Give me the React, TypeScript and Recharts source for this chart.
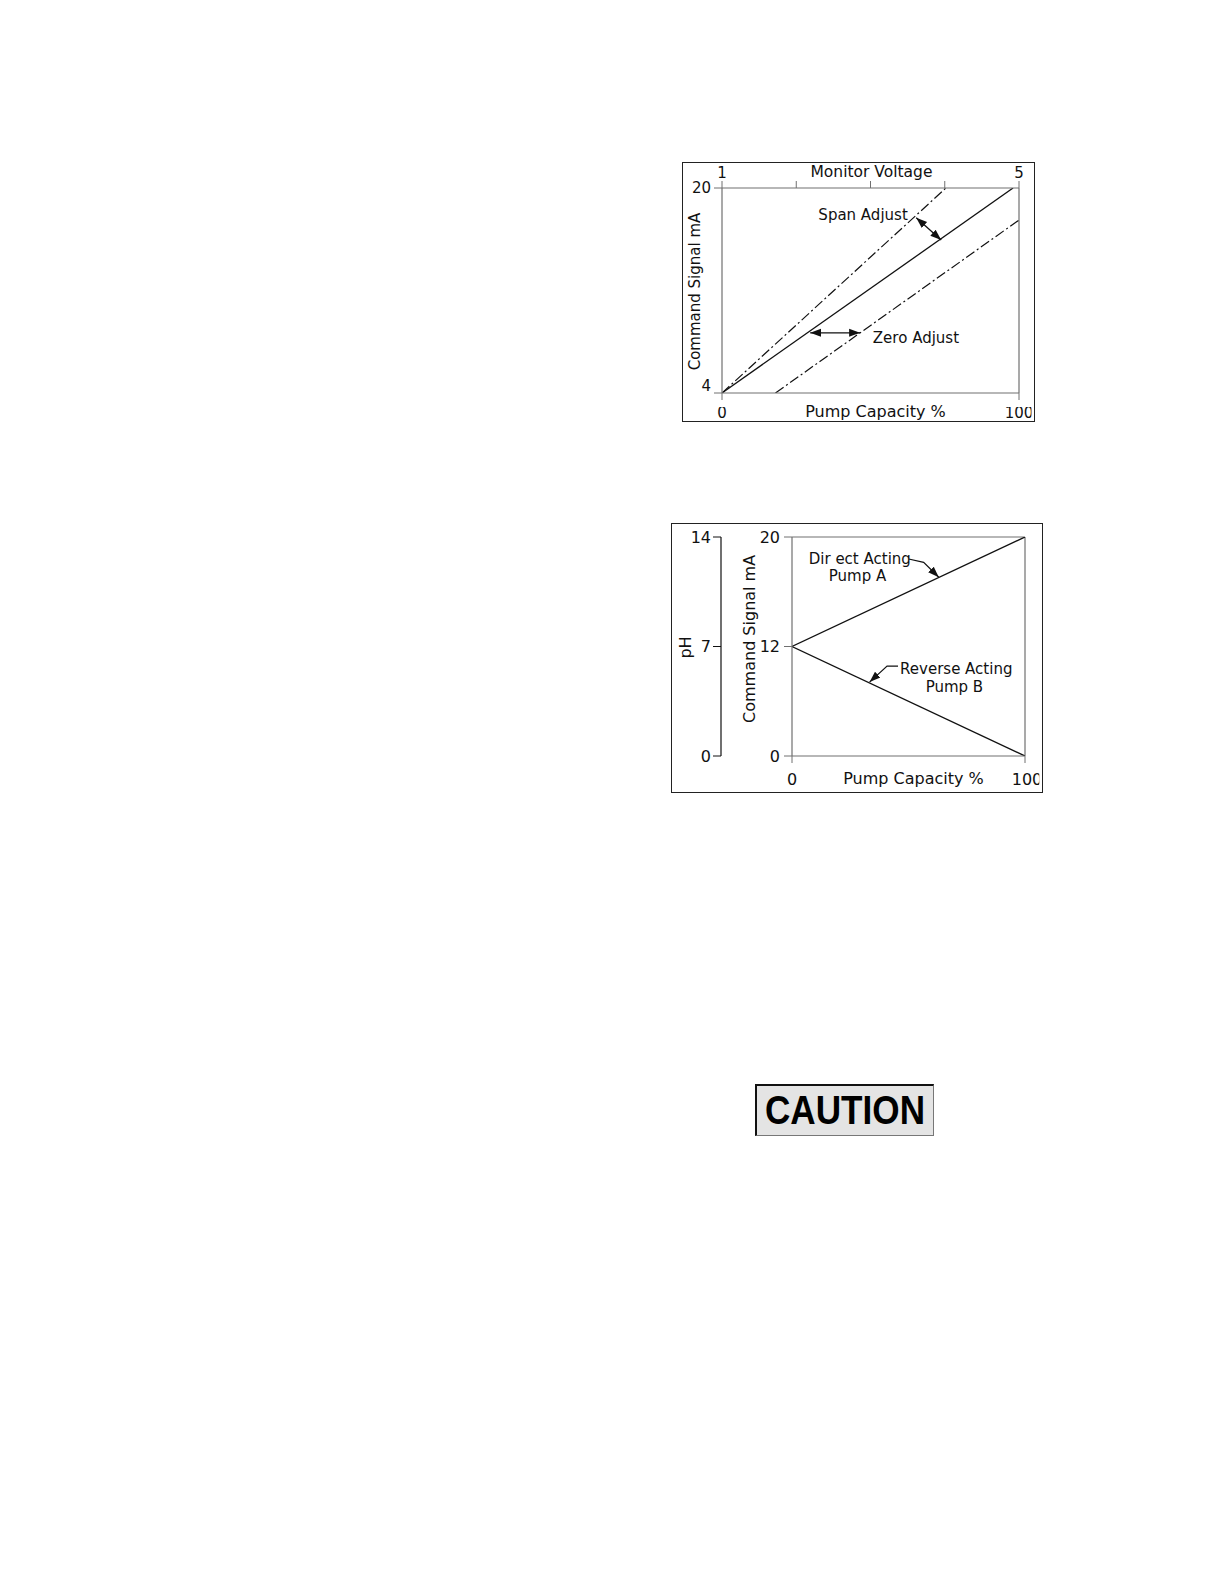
import React from 'react'
import { LineChart, Line, XAxis, YAxis, ReferenceLine, ReferenceDot, Label } from 'recharts'

// chart 1: command signal vs pump capacity, with span / zero adjustments
const capacityTicks = [0, 100]
const voltageTicks = [1, 2, 3, 4, 5]
const voltageTickLabels = ['1', '', '', '', '5']
const signalTicks = [4, 20]

const nominalX = [0, 98]
const nominalY = [4, 20]
const spanX = [0, 75.4]
const spanY = [4, 20]
const zeroX = [18, 100]
const zeroY = [4, 17.5]

const spanArrowX = [65.4, 73.8]
const spanArrowY = [17.68, 15.94]
const zeroArrowX = [29.7, 46.5]
const zeroArrowY = [8.7, 8.7]

// chart 2: direct / reverse acting pumps vs pH
const directX = [0, 100]
const directY = [12, 20]
const reverseX = [0, 100]
const reverseY = [12, 4]
const signalTicks2 = [4, 12, 20]
const signalTickLabels2 = ['0', '12', '20']
const phTicks = [0, 7, 14]

const directLeaderX = [50.1, 56.5, 63.0]
const directLeaderY = [18.39, 18.15, 17.06]
const reverseLeaderX = [45.5, 40.8, 33.3]
const reverseLeaderY = [10.57, 10.57, 9.4]

const toPoints = (xs: number[], ys: number[]) => xs.map((x, i) => ({ x, y: ys[i] }))

const FONT = 'DejaVu Sans, sans-serif'
const INK = '#111'
const GRID = '#707070'

const titleAt = (text: string, size: number, dx: number, dy: number, vertical = false) =>
  (props: any) => {
    const vb = props.viewBox
    const cx = vertical ? vb.x + dx : vb.x + vb.width / 2 + dx
    const cy = vertical ? vb.y + vb.height / 2 + dy : vb.y + dy
    return (
      <text
        x={cx}
        y={cy}
        textAnchor="middle"
        dominantBaseline="central"
        transform={vertical ? `rotate(-90 ${cx} ${cy})` : undefined}
        fontSize={size}
        fontFamily={FONT}
        fill={INK}
      >
        {text}
      </text>
    )
  }

// y tick whose bottom label sits a little above its tick, as in the drawing
const SignalTick = (props: any) => {
  const { x, y, payload } = props
  const lift = payload.value === signalTicks[0] ? -7 : 0
  return (
    <text x={x} y={y + lift} textAnchor="end" dominantBaseline="central" fontSize={15} fontFamily={FONT} fill={INK}>
      {payload.value}
    </text>
  )
}

// bottom tick whose last label is cropped on the right, like the scanned "100"
const capacityTick = (size: number, clip: number, shift: number) => (props: any) => {
  const { x, y, payload } = props
  const isLast = payload.value === capacityTicks[capacityTicks.length - 1]
  return (
    <svg x={x - 40} y={y} width={40 + clip} height={size * 1.4} overflow="hidden">
      <text x={40 + (isLast ? shift : 0)} y={0} dy="0.74em" textAnchor="middle" fontSize={size} fontFamily={FONT} fill={INK}>
        {payload.value}
      </text>
    </svg>
  )
}

const note = (value: string, size = 15) => ({ value, position: 'center' as const, fill: INK, fontSize: size, fontFamily: FONT })

const hidden = { stroke: 'none', dot: false, activeDot: false, isAnimationActive: false, legendType: 'none' as const }

function AdjustChart() {
  const tick = { fill: INK, fontSize: 15, fontFamily: FONT }
  return (
    <LineChart width={351} height={258} margin={{ top: 0, right: 15, bottom: 0, left: 0 }}>
      <XAxis
        dataKey="x"
        type="number"
        domain={[0, 100]}
        allowDataOverflow
        ticks={capacityTicks}
        interval={0}
        tick={capacityTick(15, 12.5, 0)}
        tickSize={7}
        tickMargin={7}
        height={28}
        axisLine={{ stroke: GRID, strokeWidth: 1.2 }}
        tickLine={{ stroke: GRID }}
      >
        <Label content={titleAt('Pump Capacity %', 16, 5, 18)} />
      </XAxis>
      <XAxis
        xAxisId="volt"
        dataKey="x"
        orientation="top"
        type="number"
        domain={[1, 5]}
        allowDataOverflow
        ticks={voltageTicks}
        interval={0}
        tickFormatter={(_v: number, i: number) => voltageTickLabels[i]}
        tick={tick}
        tickSize={7}
        tickMargin={3}
        height={25}
        axisLine={{ stroke: GRID, strokeWidth: 1.2 }}
        tickLine={{ stroke: GRID }}
      >
        <Label content={titleAt('Monitor Voltage', 15.5, 1, 9.3)} />
      </XAxis>
      <YAxis
        type="number"
        domain={[4, 20]}
        allowDataOverflow
        ticks={signalTicks}
        interval={0}
        tick={<SignalTick />}
        tickSize={8}
        tickMargin={3}
        width={39}
        axisLine={{ stroke: GRID, strokeWidth: 1.2 }}
        tickLine={{ stroke: GRID }}
      >
        <Label content={titleAt('Command Signal mA', 15, 12, 1, true)} />
      </YAxis>
      <ReferenceLine x={100} stroke={GRID} strokeWidth={1.2} />
      <Line xAxisId="volt" data={voltageTicks.map((v) => ({ x: v, y: signalTicks[0] }))} dataKey="y" {...hidden} />
      <Line data={toPoints(nominalX, nominalY)} dataKey="y" stroke={INK} strokeWidth={1.3} dot={false} activeDot={false} isAnimationActive={false} />
      <Line data={toPoints(spanX, spanY)} dataKey="y" stroke={INK} strokeWidth={1.2} strokeDasharray="10 3 2 3" dot={false} activeDot={false} isAnimationActive={false} />
      <Line data={toPoints(zeroX, zeroY)} dataKey="y" stroke={INK} strokeWidth={1.2} strokeDasharray="10 3 2 3" dot={false} activeDot={false} isAnimationActive={false} />
      <Line data={toPoints(spanArrowX, spanArrowY)} dataKey="y" stroke={INK} strokeWidth={1.3} markerStart="url(#arrowHead)" markerEnd="url(#arrowHead)" dot={false} activeDot={false} isAnimationActive={false} />
      <Line data={toPoints(zeroArrowX, zeroArrowY)} dataKey="y" stroke={INK} strokeWidth={1.3} markerStart="url(#arrowHead)" markerEnd="url(#arrowHead)" dot={false} activeDot={false} isAnimationActive={false} />
      <ReferenceDot x={47.5} y={17.95} r={0} stroke="none" label={note('Span Adjust')} />
      <ReferenceDot x={65.3} y={8.34} r={0} stroke="none" label={note('Zero Adjust')} />
    </LineChart>
  )
}

function PumpChart() {
  const tick = { fill: INK, fontSize: 16, fontFamily: FONT }
  return (
    <LineChart width={370} height={268} margin={{ top: 13, right: 17, bottom: 0, left: 0 }}>
      <XAxis
        dataKey="x"
        type="number"
        domain={[0, 100]}
        allowDataOverflow
        ticks={capacityTicks}
        interval={0}
        tick={capacityTick(16, 14.3, 2)}
        tickSize={7}
        tickMargin={10}
        height={36}
        axisLine={{ stroke: GRID, strokeWidth: 1.2 }}
        tickLine={{ stroke: GRID }}
      >
        <Label content={titleAt('Pump Capacity %', 16, 5, 22.7)} />
      </XAxis>
      <YAxis
        yAxisId="ma"
        type="number"
        domain={[4, 20]}
        allowDataOverflow
        ticks={signalTicks2}
        interval={0}
        tickFormatter={(_v: number, i: number) => signalTickLabels2[i]}
        tick={tick}
        tickSize={8}
        tickMargin={4}
        width={71}
        axisLine={{ stroke: GRID, strokeWidth: 1.2 }}
        tickLine={{ stroke: GRID }}
      >
        <Label content={titleAt('Command Signal mA', 16, 29, -7.6, true)} />
      </YAxis>
      <YAxis
        yAxisId="ph"
        type="number"
        domain={[0, 14]}
        allowDataOverflow
        ticks={phTicks}
        interval={0}
        tick={tick}
        tickSize={8}
        tickMargin={2}
        width={49}
        axisLine={{ stroke: INK, strokeWidth: 1.2 }}
        tickLine={{ stroke: INK }}
      >
        <Label content={titleAt('pH', 16, 13, 1, true)} />
      </YAxis>
      <ReferenceLine yAxisId="ma" y={20} stroke={GRID} strokeWidth={1.2} />
      <ReferenceLine yAxisId="ma" x={100} stroke={GRID} strokeWidth={1.2} />
      <Line yAxisId="ph" data={phTicks.map((p) => ({ x: capacityTicks[0], y: p }))} dataKey="y" {...hidden} />
      <Line yAxisId="ma" data={toPoints(directX, directY)} dataKey="y" stroke={INK} strokeWidth={1.3} dot={false} activeDot={false} isAnimationActive={false} />
      <Line yAxisId="ma" data={toPoints(reverseX, reverseY)} dataKey="y" stroke={INK} strokeWidth={1.3} dot={false} activeDot={false} isAnimationActive={false} />
      <Line yAxisId="ma" data={toPoints(directLeaderX, directLeaderY)} dataKey="y" stroke={INK} strokeWidth={1.2} markerEnd="url(#arrowHead)" dot={false} activeDot={false} isAnimationActive={false} />
      <Line yAxisId="ma" data={toPoints(reverseLeaderX, reverseLeaderY)} dataKey="y" stroke={INK} strokeWidth={1.2} markerEnd="url(#arrowHead)" dot={false} activeDot={false} isAnimationActive={false} />
      <ReferenceDot yAxisId="ma" x={29.1} y={18.39} r={0} stroke="none" label={note('Dir ect Acting')} />
      <ReferenceDot yAxisId="ma" x={28.1} y={17.18} r={0} stroke="none" label={note('Pump A')} />
      <ReferenceDot yAxisId="ma" x={70.5} y={10.37} r={0} stroke="none" label={note('Reverse Acting')} />
      <ReferenceDot yAxisId="ma" x={69.7} y={9.03} r={0} stroke="none" label={note('Pump B')} />
    </LineChart>
  )
}

export default function App() {
  const frame: React.CSSProperties = {
    position: 'absolute',
    boxSizing: 'border-box',
    border: '1px solid #222',
    overflow: 'hidden',
    background: '#fff',
  }
  return (
    <div style={{ position: 'absolute', left: 0, top: 0, width: 1224, height: 1584, background: '#fff' }}>
      <svg width={0} height={0} style={{ position: 'absolute' }}>
        <defs>
          <marker
            id="arrowHead"
            viewBox="0 0 11 11"
            refX={11}
            refY={5.5}
            markerWidth={11}
            markerHeight={11}
            markerUnits="userSpaceOnUse"
            orient="auto-start-reverse"
          >
            <path d="M0,1.5 L11,5.5 L0,9.5 Z" fill={INK} />
          </marker>
        </defs>
      </svg>

      <div style={{ ...frame, left: 682, top: 162, width: 353, height: 260 }}>
        <AdjustChart />
      </div>

      <div style={{ ...frame, left: 671, top: 523, width: 372, height: 270 }}>
        <PumpChart />
      </div>

      <div
        style={{
          position: 'absolute',
          left: 755,
          top: 1084,
          width: 179,
          height: 52,
          boxSizing: 'border-box',
          borderTop: '2px solid #111',
          borderLeft: '2px solid #111',
          borderRight: '1px solid #777',
          borderBottom: '1px solid #777',
          background: '#e4e4e4',
        }}
      >
        <svg width={240} height={60} style={{ display: 'block', overflow: 'visible' }}>
          <text
            x={8}
            y={37.5}
            textLength={160}
            lengthAdjust="spacingAndGlyphs"
            fontFamily="Liberation Sans, Arial, sans-serif"
            fontWeight="bold"
            fontSize={40}
            fill="#000"
          >
            CAUTION
          </text>
        </svg>
      </div>
    </div>
  )
}
